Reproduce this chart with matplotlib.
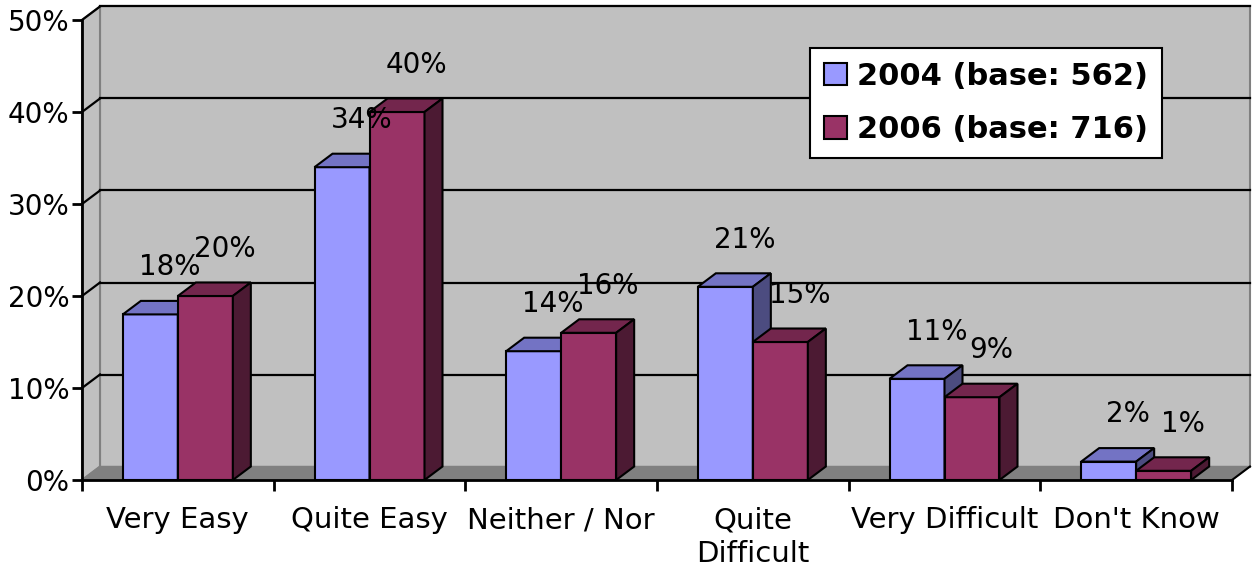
import matplotlib.pyplot as plt
from matplotlib.patches import Polygon, Patch

# data
categories = ['Very Easy', 'Quite Easy', 'Neither / Nor', 'Quite\nDifficult', 'Very Difficult', "Don't Know"]
values_2004 = [18, 34, 14, 21, 11, 2]
values_2006 = [20, 40, 16, 15, 9, 1]
series_names = ['2004 (base: 562)', '2006 (base: 716)']

# colours: front, top, side
blue = ('#9999ff', '#7373c4', '#4c4c80')
red = ('#993366', '#73264d', '#4c1a33')

W, H = 1255, 576
fig = plt.figure(figsize=(W / 100, H / 100), dpi=100)
# front axis: x 82..1232 px, y 480..20 px
ax = fig.add_axes([82 / W, (H - 480) / H, 1150 / W, 460 / H])
ax.set_xlim(-0.5, 5.5)
ax.set_ylim(0, 50)
ax.patch.set_visible(False)

# depth offset of the 3D look, in data units
dx = 18 / (1150 / 6)
dy = 13.5 / (460 / 50)

x0, x1 = -0.5, 5.5
# back wall
ax.add_patch(Polygon([(x0 + dx, dy), (x1 + dx, dy), (x1 + dx, 50 + dy), (x0 + dx, 50 + dy)],
                     closed=True, fc='#c0c0c0', ec='#808080', lw=1.5, zorder=0, clip_on=False))
# side wall
ax.add_patch(Polygon([(x0, 0), (x0 + dx, dy), (x0 + dx, 50 + dy), (x0, 50)],
                     closed=True, fc='#c0c0c0', ec='#808080', lw=1.5, zorder=0, clip_on=False))
# floor
ax.add_patch(Polygon([(x0, 0), (x1, 0), (x1 + dx, dy), (x0 + dx, dy)],
                     closed=True, fc='#808080', ec='#808080', lw=1, zorder=0.5, clip_on=False))
ax.plot([x1, x1 + dx], [0, dy], color='black', lw=1.5, zorder=1, clip_on=False)

# grid lines on the walls
for v in range(10, 51, 10):
    ax.plot([x0 + dx, x1 + dx], [v + dy, v + dy], color='black', lw=1.6, zorder=0.8, clip_on=False)
    ax.plot([x0, x0 + dx], [v, v + dy], color='black', lw=1.6, zorder=0.8, clip_on=False)


def bar3d(left, width, h, cols):
    right = left + width
    ax.add_patch(Polygon([(left, 0), (right, 0), (right, h), (left, h)],
                         fc=cols[0], ec='black', lw=1.5, zorder=2, clip_on=False))
    ax.add_patch(Polygon([(left, h), (right, h), (right + dx, h + dy), (left + dx, h + dy)],
                         fc=cols[1], ec='black', lw=1.5, zorder=2, clip_on=False))
    ax.add_patch(Polygon([(right, 0), (right + dx, dy), (right + dx, h + dy), (right, h)],
                         fc=cols[2], ec='black', lw=1.5, zorder=2, clip_on=False))


bw = 55 / (1150 / 6)
for i in range(len(categories)):
    bar3d(i - bw, bw, values_2004[i], blue)
    bar3d(i, bw, values_2006[i], red)
    for left, v in ((i - bw, values_2004[i]), (i, values_2006[i])):
        ax.annotate(f'{v}%', (left + bw / 2, v), xytext=(14, 34), textcoords='offset points',
                    ha='center', va='center', fontsize=20, zorder=5)

# axes
for s in ['top', 'right']:
    ax.spines[s].set_visible(False)
ax.spines['left'].set_linewidth(2)
ax.spines['bottom'].set_linewidth(2)
ax.spines['left'].set_zorder(3)
ax.spines['bottom'].set_zorder(3)

ax.set_yticks(range(0, 51, 10))
ax.set_yticklabels([f'{v}%' for v in range(0, 51, 10)], fontsize=20)
ax.tick_params(axis='y', length=7, width=2, pad=2)

ax.set_xticks([i + 0.5 for i in range(-1, 6)], minor=False)
ax.set_xticklabels([])
ax.tick_params(axis='x', length=8, width=2)
ax.set_xticks(range(len(categories)), minor=True)
ax.set_xticklabels(categories, minor=True, fontsize=21, linespacing=1.25, va='top')
ax.tick_params(axis='x', which='minor', length=0, pad=19)

# legend
handles = [Patch(fc=blue[0], ec='black', lw=1.5), Patch(fc=red[0], ec='black', lw=1.5)]
leg = fig.legend(handles, series_names, loc='upper left',
                 bbox_to_anchor=(810 / W, 1 - 48 / H), borderaxespad=0,
                 prop={'weight': 'bold', 'size': 22}, fancybox=False, framealpha=1,
                 edgecolor='black', handlelength=0.75, handleheight=0.75,
                 handletextpad=0.35, borderpad=0.45, labelspacing=0.8)
leg.get_frame().set_linewidth(1.5)

fig.savefig('out.png', dpi=100)
